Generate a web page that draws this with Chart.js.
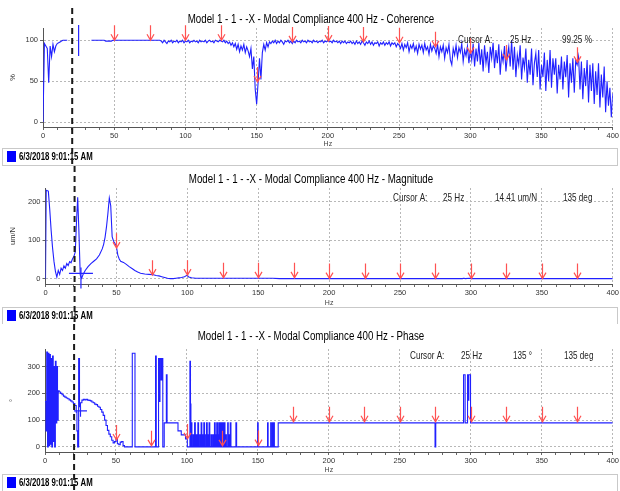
<!DOCTYPE html>
<html>
<head>
<meta charset="utf-8">
<script src="https://cdn.jsdelivr.net/npm/chart.js@4.4.1/dist/chart.umd.min.js"></script>
<style>
body { margin: 0; background: #fff; width: 620px; height: 491px; overflow: hidden; }
.panel { position: absolute; left: 0; width: 620px; }
</style>
</head>
<body>
<div class="panel" style="top:0;height:166px"><canvas id="cohChart"></canvas></div>
<div class="panel" style="top:166px;height:158px"><canvas id="magChart"></canvas></div>
<div class="panel" style="top:324px;height:167px"><canvas id="phaseChart"></canvas></div>
<script>
const FONT = '"Liberation Sans", Arial, sans-serif';
const runLabel = "6/3/2018 9:01:15 AM";

// axes
const xTicks = [0, 50, 100, 150, 200, 250, 300, 350, 400];
const cohTicks = [0, 50, 100];
const magTicks = [0, 100, 200];
const phaseTicks = [0, 100, 200, 300];

// red peak markers (Hz) and where their tips sit in each panel
const arrowHz = [50, 75, 100, 125, 150, 175, 200, 225, 250, 275, 300, 325, 350, 375];
const cohArrows = [100, 100, 100, 100, 49, 98, 99, 98, 97, 92, 84, 76, null, 73];
const magArrows = [80, 10, 10, 3, 3, 3, 1, 1, 1, 1, 1, 1, 1, 1];
const phaseArrows = [26, 4, 30, 4, 5, 94, 94, 94, 94, 94, 94, 94, 94, 94];

// coherence %, one value per Hz from 0 to 400
const coherence = [
  0, 96, 93, 90, 48, 93, 80, 95, 86, 93,
  96, 97, 98, 99, 100, 100, 100, 100, null, null,
  null, null, null, null, null, null, null, null, null, null,
  null, null, null, null, 100, 100, 100, 100, 100, 100,
  100, 100, 100, 100, 99, 99, 99, 99, 99, 100,
  100, 100, 100, 100, 100, 100, 100, 100, 100, 100,
  100, 100, 100, 100, 100, 100, 100, 100, 100, 100,
  100, 100, 100, 100, 100, 100, 100, 100, 100, 100,
  100, 100, 100, 99, 97, 100, 98, 96, 99, 98,
  100, 97, 99, 98, 100, 97, 99, 98, 100, 97,
  99, 98, 100, 97, 99, 98, 100, 98, 99, 97,
  100, 98, 99, 98, 100, 97, 99, 100, 98, 99,
  97, 100, 99, 98, 100, 99, 98, 100, 97, 99,
  96, 98, 94, 97, 92, 96, 89, 95, 86, 93,
  88, 95, 85, 92, 87, 80, 90, 65, 80, 40,
  22, 48, 78, 52, 85, 95, 88, 97, 92, 98,
  96, 99, 97, 100, 96, 99, 97, 100, 98, 95,
  99, 98, 100, 97, 99, 96, 99, 97, 100, 98,
  99, 97, 100, 98, 99, 97, 100, 98, 99, 97,
  100, 98, 99, 97, 99, 98, 100, 97, 99, 98,
  100, 98, 99, 97, 100, 98, 99, 97, 99, 96,
  99, 97, 99, 96, 98, 97, 99, 96, 98, 95,
  99, 96, 98, 95, 99, 97, 94, 98, 96, 99,
  95, 98, 94, 97, 96, 98, 93, 97, 95, 98,
  94, 97, 95, 98, 93, 97, 95, 97, 92, 96,
  94, 90, 96, 88, 95, 91, 97, 86, 94, 90,
  96, 87, 93, 84, 95, 89, 94, 85, 96, 88,
  92, 83, 95, 87, 93, 90, 84, 95, 80, 92,
  86, 94, 78, 91, 85, 95, 76, 70, 90, 82,
  94, 79, 91, 85, 96, 74, 88, 81, 93, 72,
  88, 76, 96, 68, 90, 74, 97, 70, 89, 62,
  94, 72, 86, 60, 92, 78, 97, 66, 88, 72,
  95, 58, 84, 74, 93, 62, 80, 92, 68, 100,
  64, 92, 55, 82, 70, 94, 52, 79, 66, 90,
  48, 76, 58, 90, 45, 72, 84, 55, 88, 40,
  70, 55, 85, 38, 76, 50, 88, 42, 78, 58,
  78, 35, 70, 52, 80, 40, 74, 55, 82, 30,
  72, 48, 78, 36, 75, 70, 80, 40, 74, 28,
  66, 44, 76, 24, 70, 38, 72, 22, 62, 33,
  72, 18, 58, 30, 68, 12, 50, 20, 42, 6,
  35
];

// magnitude um/N
const magHz = [
  0, 0.5, 2, 3, 4, 5, 6, 7, 8, 9,
  10, 11, 12, 13, 14, 15, 16, 17, 18, 19,
  20, 21, 22, 22.7, 23.5, 24.5, 25.5, 26.5, 28, 30,
  32, 34, 36, 38, 40, 41, 42, 43, 44, 45,
  46, 46.5, 47, 48, 49, 50, 51, 52, 53, 55,
  57, 59, 61, 63, 65, 67, 70, 73, 76, 78,
  80, 82, 84, 86, 88, 90, 92, 94, 96, 98,
  100, 101, 103, 106, 120, 140, 160, 165, 200, 294,
  295, 296, 299, 300, 400
];
const magVal = [
  0, 230, 228, 180, 125, 80, 45, 20, 5, 22,
  12, 28, 22, 34, 28, 40, 35, 45, 42, 52,
  58, 70, 160, 212, 130, 10, 2, 12, 22, 32,
  40, 46, 52, 62, 78, 90, 108, 135, 170, 210,
  190, 150, 110, 98, 92, 84, 62, 52, 46, 43,
  38, 32, 27, 22, 18, 15, 13, 12, 11, 9,
  8, 6, 4, 2, 1, 1, 2, 3, 4, 6,
  10, 5, 3, 2, 2, 2, 2, 1, 1, 1,
  2, 1, 2, 1, 1
];

// phase degrees (held until the next point)
const phaseHz = [
  0, 0.7, 1.2, 1.8, 2.3, 2.8, 3.3, 3.8, 4.3, 4.8,
  5.3, 5.8, 6.3, 6.8, 7.3, 7.8, 8.3, 8.8, 9.3, 10,
  11, 12, 13, 14, 15, 16, 17, 18, 19, 20,
  21, 22, 22.5, 23, 23.7, 24.3, 25, 26, 27, 28,
  29, 30, 31, 32, 33, 34, 35, 36, 37, 38,
  39, 40, 41, 42, 43, 44, 45, 46, 47, 48,
  49, 50, 51, 52, 53, 54, 55, 56, 61.5, 63.4,
  77.9, 78.4, 80, 80.6, 81, 81.8, 82.3, 83, 84, 85.5,
  86, 93.7, 96, 99, 100.3, 102.1, 102.5, 102.8, 103, 103.5,
  104.3, 104.8, 105.4, 105.9, 106.5, 107, 107.7, 108.2, 109, 109.4,
  110, 110.5, 111.2, 111.6, 111.9, 112.4, 113.2, 113.5, 113.8, 114.3,
  115, 115.3, 115.6, 116.1, 117, 117.5, 118.3, 118.8, 119.4, 119.9,
  120.3, 120.6, 121, 121.5, 121.8, 122.1, 122.4, 122.8, 123.1, 123.3,
  123.5, 123.9, 124.2, 124.4, 124.6, 124.9, 125.1, 125.2, 125.4, 125.8,
  126, 126.1, 126.3, 126.8, 127.3, 127.8, 128.7, 129.1, 129.6, 130,
  130.5, 131, 134.5, 135, 149.8, 150.2, 156.8, 157.2, 159, 159.4,
  160.2, 160.6, 161.2, 161.6, 164.3, 274.8, 275.3, 294.9, 296, 297.7,
  298.2, 298.6, 299.8, 400
];
const phaseVal = [
  170, 60, 355, 0, 350, 5, 345, 10, 330, 0,
  340, 20, 300, 0, 320, 90, 300, 100, 210, 205,
  200, 195, 190, 186, 183, 180, 176, 172, 168, 162,
  155, 130, 60, 0, 330, 150, 165, 175, 178, 176,
  178, 175, 174, 172, 168, 165, 160, 158, 152, 148,
  140, 130, 118, 100, 80, 62, 48, 38, 25, 15,
  20, 30, 12, 8, 18, 20, 5, 0, 350, 0,
  340, 0, 330, 170, 330, 250, 330, 0, 90, 270,
  90, 60, 45, 30, 0, 320, 160, 0, 90, 0,
  45, 0, 90, 0, 45, 0, 90, 0, 45, 0,
  90, 0, 45, 0, 90, 0, 45, 0, 90, 0,
  45, 0, 90, 0, 45, 0, 45, 0, 90, 0,
  45, 0, 90, 0, 45, 0, 90, 0, 45, 0,
  90, 0, 45, 0, 90, 0, 45, 0, 90, 0,
  45, 0, 90, 0, 45, 0, 90, 0, 45, 0,
  90, 0, 90, 0, 90, 0, 90, 0, 90, 0,
  90, 0, 90, 0, 90, 0, 90, 270, 90, 270,
  175, 270, 90, 90
];

const cursorHz = 25;
const dashHz = 20.5;

// the screenshot's fonts are narrow, so text is squeezed sideways
function squeezedText(ctx, text, x, y, sx, align) {
  ctx.save();
  ctx.translate(x, y);
  ctx.scale(sx, 1);
  ctx.textAlign = align;
  ctx.textBaseline = 'middle';
  ctx.fillText(text, 0, 0);
  ctx.restore();
}

// title on top, legend row (box + run time) in a gray frame under the axis
const framePlugin = {
  id: 'frame',
  afterDraw(chart, args, o) {
    const { ctx } = chart;
    const top = Math.round(chart.scales.x.bottom);
    ctx.save();
    ctx.fillStyle = '#000';
    ctx.font = '12.5px ' + FONT;
    squeezedText(ctx, o.title, chart.width / 2 + 1, o.titleY, 0.78, 'center');

    ctx.strokeStyle = '#c9c9c9';
    ctx.lineWidth = 1;
    ctx.strokeRect(2.5, top + 0.5, chart.width - 5, 17);
    const ds = chart.data.datasets[0];
    ctx.fillStyle = ds.backgroundColor;
    ctx.fillRect(7, top + 3, 9, 11);
    ctx.fillStyle = '#000';
    ctx.font = 'bold 10px ' + FONT;
    squeezedText(ctx, ds.label, 19, top + 9, 0.78, 'left');
    ctx.restore();
  }
};

// arrows, cursor crosshair, cursor readout, dashed marker
const overlayPlugin = {
  id: 'overlay',
  afterDatasetsDraw(chart, args, o) {
    const { ctx, scales: { x, y } } = chart;
    ctx.save();
    ctx.strokeStyle = '#ff5252';
    ctx.lineWidth = 1.2;
    arrowHz.forEach((hz, i) => {
      const v = o.arrows[i];
      if (v == null) return;
      const px = Math.round(x.getPixelForValue(hz)) + 0.5;
      const py = y.getPixelForValue(v);
      ctx.beginPath();
      ctx.moveTo(px, py - 15);
      ctx.lineTo(px, py);
      ctx.moveTo(px - 3.5, py - 6);
      ctx.lineTo(px, py);
      ctx.lineTo(px + 3.5, py - 6);
      ctx.stroke();
    });

    const cx = x.getPixelForValue(cursorHz);
    const cy = y.getPixelForValue(o.cursorValue);
    ctx.strokeStyle = '#2424ff';
    ctx.lineWidth = 1.2;
    ctx.beginPath();
    ctx.moveTo(cx, cy - o.cross.up);
    ctx.lineTo(cx, cy + o.cross.down);
    if (o.cross.half) {
      ctx.moveTo(cx - o.cross.half, cy);
      ctx.lineTo(cx + o.cross.half, cy);
    }
    ctx.stroke();

    ctx.fillStyle = '#222';
    ctx.font = '11px ' + FONT;
    o.readout.forEach(t => squeezedText(ctx, t.text, t.x, o.readoutY, 0.74, 'left'));
    ctx.restore();
  },
  afterDraw(chart, args, o) {
    const { ctx, scales: { x } } = chart;
    const px = x.getPixelForValue(dashHz);
    ctx.save();
    ctx.strokeStyle = '#1a1a1a';
    ctx.lineWidth = 2;
    ctx.setLineDash([6, 4]);
    ctx.beginPath();
    ctx.moveTo(px, o.dashTop);
    ctx.lineTo(px, chart.height);
    ctx.stroke();
    ctx.restore();
  }
};

function makeOptions(c) {
  const axisFont = { family: FONT, size: 7.5 };
  return {
    responsive: true,
    maintainAspectRatio: false,
    animation: false,
    layout: { padding: { left: 4, right: c.padRight, top: c.padTop, bottom: c.padBottom } },
    plugins: {
      title: { display: false },
      legend: { display: false },
      tooltip: { enabled: false },
      frame: { title: c.title, titleY: c.titleY },
      overlay: c.overlay
    },
    scales: {
      x: {
        type: 'linear', min: 0, max: 400,
        afterFit: s => { s.height = c.xHeight; },
        ticks: {
          stepSize: 10, autoSkip: false, maxRotation: 0, padding: 1, color: '#333', font: axisFont,
          callback: v => xTicks.includes(v) ? String(v) : ''
        },
        grid: {
          color: g => (g.tick && g.tick.value > 0 && xTicks.includes(g.tick.value)) ? '#b8b8b8' : 'rgba(0,0,0,0)',
          tickColor: '#666', tickLength: 3, tickBorderDash: []
        },
        border: { display: true, color: '#555', dash: [2, 2] },
        title: { display: true, text: 'Hz', color: '#444', font: { family: FONT, size: 7 }, padding: 0 }
      },
      y: {
        min: c.yMin, max: c.yMax,
        afterFit: s => { s.width = c.yWidth; },
        afterBuildTicks: s => { s.ticks = c.yTicks.map(v => ({ value: v })); },
        ticks: { color: '#333', font: axisFont, padding: 2 },
        grid: { color: '#b8b8b8', tickColor: '#666', tickLength: 3, tickBorderDash: [] },
        border: { display: true, color: '#555', dash: [2, 2] },
        title: { display: true, text: c.yTitle, color: '#333', font: { family: FONT, size: 7.5 }, padding: { top: 4, bottom: 0 } }
      }
    }
  };
}

function lineSet(points, stepped) {
  return {
    label: runLabel,
    data: points,
    borderColor: '#2020ff',
    backgroundColor: '#0000ff',
    borderWidth: 1.1,
    pointRadius: 0,
    tension: 0,
    spanGaps: false,
    stepped: stepped
  };
}

new Chart(document.getElementById('cohChart'), {
  type: 'line',
  data: { datasets: [lineSet(coherence.map((v, hz) => ({ x: hz, y: v })), false)] },
  options: makeOptions({
    title: 'Model 1 - 1 - -X - Modal Compliance 400 Hz - Coherence', titleY: 20,
    padTop: 28, padRight: 7, padBottom: 18, xHeight: 21, yWidth: 39,
    yMin: -6, yMax: 115, yTicks: cohTicks, yTitle: '%',
    overlay: {
      arrows: cohArrows, cursorValue: 99.25, cross: { up: 16, down: 15, half: 0 },
      readoutY: 40,
      readout: [{ text: 'Cursor A:', x: 458 }, { text: '25 Hz', x: 510 }, { text: '99.25 %', x: 562 }],
      dashTop: 8
    }
  }),
  plugins: [framePlugin, overlayPlugin]
});

new Chart(document.getElementById('magChart'), {
  type: 'line',
  data: { datasets: [lineSet(magHz.map((hz, i) => ({ x: hz, y: magVal[i] })), false)] },
  options: makeOptions({
    title: 'Model 1 - 1 - -X - Modal Compliance 400 Hz - Magnitude', titleY: 14,
    padTop: 22, padRight: 5, padBottom: 17, xHeight: 23, yWidth: 41.5,
    yMin: -13, yMax: 236, yTicks: magTicks, yTitle: 'um/N',
    overlay: {
      arrows: magArrows, cursorValue: 14.41, cross: { up: 6, down: 15, half: 12 },
      readoutY: 32,
      readout: [{ text: 'Cursor A:', x: 393 }, { text: '25 Hz', x: 443 }, { text: '14.41 um/N', x: 495 }, { text: '135 deg', x: 563 }],
      dashTop: 0
    }
  }),
  plugins: [framePlugin, overlayPlugin]
});

new Chart(document.getElementById('phaseChart'), {
  type: 'line',
  data: { datasets: [lineSet(phaseHz.map((hz, i) => ({ x: hz, y: phaseVal[i] })), true)] },
  options: makeOptions({
    title: 'Model 1 - 1 - -X - Modal Compliance 400 Hz - Phase', titleY: 13,
    padTop: 25, padRight: 5, padBottom: 17, xHeight: 22, yWidth: 41,
    yMin: -19, yMax: 366, yTicks: phaseTicks, yTitle: '°',
    overlay: {
      arrows: phaseArrows, cursorValue: 135, cross: { up: 4, down: 6, half: 6.5 },
      readoutY: 32,
      readout: [{ text: 'Cursor A:', x: 410 }, { text: '25 Hz', x: 461 }, { text: '135 °', x: 513 }, { text: '135 deg', x: 564 }],
      dashTop: 0
    }
  }),
  plugins: [framePlugin, overlayPlugin]
});
</script>
</body>
</html>
